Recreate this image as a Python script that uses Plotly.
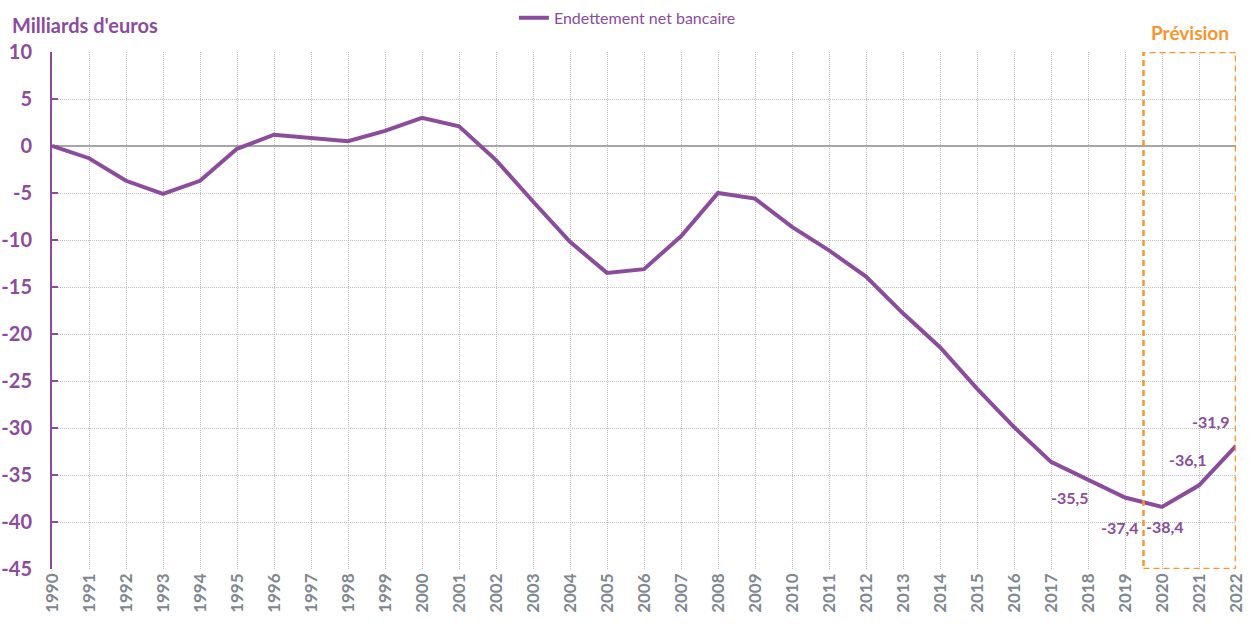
import plotly.graph_objects as go

years = list(range(1990, 2023))
values = [0.0, -1.3, -3.7, -5.1, -3.7, -0.3, 1.2, 0.9, 0.5, 1.6, 3.0, 2.1, -1.5, -5.9,
          -10.2, -13.5, -13.1, -9.6, -5.0, -5.6, -8.6, -11.1, -13.9, -17.8, -21.4,
          -25.8, -29.9, -33.6, -35.5, -37.4, -38.4, -36.1, -31.9]
label_years = [2018, 2019, 2020, 2021, 2022]
y_ticks = [10, 5, 0, -5, -10, -15, -20, -25, -30, -35, -40, -45]
series_name = "Endettement net bancaire"
y_title = "Milliards d'euros"
forecast_label = "Prévision"
forecast_start, forecast_end = 2019.5, 2022

PURPLE = "#8B4C9C"
ORANGE = "#F7962F"
GRID = "#BFBFBF"
FONT = "Lato, 'Open Sans', sans-serif"

fig = go.Figure()
fig.add_trace(go.Scatter(x=years, y=values, mode="lines", name=series_name,
                         line=dict(color=PURPLE, width=4), showlegend=True))

# forecast box
fig.add_shape(type="rect", xref="x", yref="y", x0=forecast_start, x1=forecast_end,
              y0=-45, y1=10, line=dict(color=ORANGE, width=2.5, dash="6px,4px"),
              fillcolor="rgba(0,0,0,0)")
fig.add_annotation(xref="x", yref="paper", x=(forecast_start + forecast_end) / 2, y=1.0,
                   yanchor="middle", yshift=20, text=f"<b>{forecast_label}</b>", showarrow=False,
                   font=dict(color=ORANGE, size=19, family=FONT))

# data labels (pixel offsets from their point)
offsets = {2018: (-18, 18), 2019: (-5, 30), 2020: (3, 20), 2021: (-11, -26), 2022: (-25, -24)}
for yr in label_years:
    v = values[years.index(yr)]
    dx, dy = offsets[yr]
    fig.add_annotation(x=yr, y=v, text="<b>" + f"{v:.1f}".replace(".", ",") + "</b>",
                       showarrow=False, xshift=dx, yshift=-dy,
                       font=dict(color=PURPLE, size=16, family=FONT))

fig.add_annotation(xref="paper", yref="paper", x=0, y=1.0, xshift=-42, yshift=27,
                   xanchor="left", yanchor="middle",
                   text=f"<b>{y_title}</b>", showarrow=False,
                   font=dict(color=PURPLE, size=20, family=FONT))

fig.update_layout(
    width=1249, height=626,
    margin=dict(l=52, r=13, t=52, b=57, autoexpand=False),
    paper_bgcolor="white", plot_bgcolor="white",
    font=dict(family=FONT),
    legend=dict(orientation="h", x=0.486, xanchor="center", y=1.066, yanchor="middle",
                font=dict(color=PURPLE, size=16, family=FONT),
                bgcolor="rgba(0,0,0,0)"),
    xaxis=dict(range=[1990, 2022], tickmode="array", tickvals=years,
               ticktext=[str(y) for y in years], tickangle=-90, automargin=False,
               tickfont=dict(color="#7F8790", size=17, family=FONT, weight="bold"),
               showgrid=True, gridcolor=GRID, griddash="1px,1px", gridwidth=1,
               showline=False, zeroline=False, ticks=""),
    yaxis=dict(range=[-45, 10], tickmode="array", tickvals=y_ticks,
               ticktext=[str(t) for t in y_ticks],
               automargin=False,
               tickfont=dict(color=PURPLE, size=20, family=FONT, weight="bold"),
               showgrid=True, gridcolor=GRID, griddash="1px,1px", gridwidth=1,
               zeroline=True, zerolinecolor="#A6A6A6", zerolinewidth=1.5,
               showline=True, linecolor=PURPLE, linewidth=2,
               ticks="inside", ticklen=6, tickcolor=PURPLE, tickwidth=2,
               ticklabelstandoff=14),
)

fig.write_html("out.html", config={"displayModeBar": False},
               post_script="document.body.style.margin='0';document.body.style.overflow='hidden';")
